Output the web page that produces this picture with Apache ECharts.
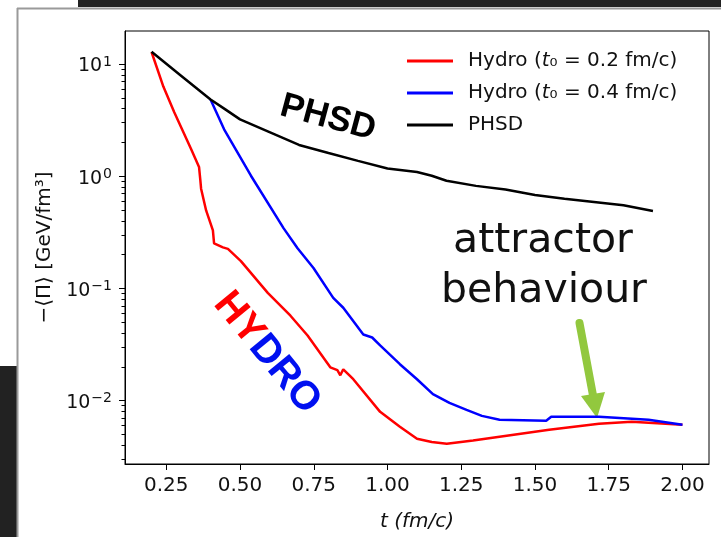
<!DOCTYPE html>
<html><head><meta charset="utf-8">
<script src="https://cdn.jsdelivr.net/npm/echarts@6/dist/echarts.min.js"></script>
<style>html,body{margin:0;padding:0;background:#fff}#c{width:721px;height:537px}</style>
</head><body><div id="c"></div>
<script>
// ---- data ----
const redT = [0.20, 0.24, 0.277, 0.334, 0.361, 0.365, 0.368, 0.385, 0.408, 0.412, 0.442, 0.459, 0.503, 0.594, 0.671, 0.729, 0.806, 0.830, 0.840, 0.850, 0.884, 0.975, 1.042, 1.100, 1.150, 1.201, 1.290, 1.380, 1.548, 1.717, 1.828, 1.943, 2.00];
const redV = [12.8, 6.30, 3.71, 1.75, 1.21, 0.949, 0.774, 0.495, 0.329, 0.252, 0.232, 0.225, 0.175, 0.0912, 0.0571, 0.0380, 0.0198, 0.0187, 0.0168, 0.0190, 0.0155, 0.00793, 0.00585, 0.00457, 0.00428, 0.00413, 0.00440, 0.00476, 0.00549, 0.00621, 0.00647, 0.00621, 0.00608];
const blueT = [0.40, 0.446, 0.537, 0.648, 0.695, 0.749, 0.816, 0.850, 0.918, 0.948, 0.975, 1.042, 1.100, 1.154, 1.210, 1.268, 1.320, 1.380, 1.538, 1.555, 1.717, 1.885, 2.00];
const blueV = [4.83, 2.62, 1.01, 0.343, 0.228, 0.152, 0.0824, 0.0672, 0.0388, 0.0365, 0.0310, 0.0211, 0.0155, 0.0114, 0.00953, 0.00826, 0.00730, 0.00674, 0.00660, 0.00716, 0.00716, 0.00674, 0.00608];
const phsdT = [0.2, 0.3, 0.4, 0.45, 0.5, 0.6, 0.7, 0.8, 0.9, 1.0, 1.1, 1.15, 1.2, 1.3, 1.4, 1.5, 1.6, 1.7, 1.8, 1.9];
const phsdV = [12.85, 7.87, 4.83, 3.94, 3.21, 2.47, 1.90, 1.61, 1.37, 1.17, 1.09, 1.01, 0.91, 0.82, 0.76, 0.68, 0.63, 0.59, 0.55, 0.49];
const seriesNames = ['Hydro (t₀ = 0.2 fm/c)', 'Hydro (t₀ = 0.4 fm/c)', 'PHSD'];
const xTicks = [0.25, 0.50, 0.75, 1.00, 1.25, 1.50, 1.75, 2.00];
const yMajor = [0.01, 0.1, 1, 10];
const yMinor = [0.003, 0.004, 0.005, 0.006, 0.007, 0.008, 0.009,
                0.02, 0.03, 0.04, 0.05, 0.06, 0.07, 0.08, 0.09,
                0.2, 0.3, 0.4, 0.5, 0.6, 0.7, 0.8, 0.9,
                2, 3, 4, 5, 6, 7, 8, 9];
// ----------------------------------------
const zip = (a, b) => a.map((t, i) => [t, b[i]]);
const F = 'DejaVu Sans';
const B = 'Liberation Sans';
const yMin = 0.00272, yMax = 19.7;
function supLabel(v) {
  const l = Math.log10(v), e = Math.round(l);
  if (Math.abs(l - e) > 1e-6) return '';
  return '{b|10}{s|' + String(e).replace('-', '\u2212') + '}';
}
// helper axes in log10 space carry the tick marks of the log axis
function tickAxis(vals, len) {
  return {
    type: 'value', min: Math.log10(yMin), max: Math.log10(yMax), position: 'left', offset: 0,
    axisLine: {show: false},
    axisTick: {show: true, length: len, customValues: vals.map(Math.log10), lineStyle: {color: '#000', width: 1}},
    axisLabel: {show: false}, splitLine: {show: false}
  };
}
const chart = echarts.init(document.getElementById('c'));
const deg = Math.PI / 180;
chart.setOption({
  backgroundColor: '#fff',
  animation: false,
  grid: {left: 125, right: 12, top: 31, bottom: 69, show: true, borderColor: '#000', borderWidth: 1, backgroundColor: 'transparent'},
  xAxis: {
    type: 'value', min: 0.11, max: 2.09,
    name: 't (fm/c)', nameLocation: 'middle', nameGap: 48,
    nameTextStyle: {fontFamily: F, fontSize: 20, fontStyle: 'italic', color: '#111'},
    axisLine: {show: true, onZero: false, lineStyle: {color: '#000', width: 1}},
    axisTick: {show: true, length: 6, customValues: xTicks, lineStyle: {color: '#000', width: 1}},
    axisLabel: {customValues: xTicks, formatter: v => v.toFixed(2), margin: 12, fontFamily: F, fontSize: 20, color: '#111'},
    splitLine: {show: false}
  },
  yAxis: [{
    type: 'log', min: yMin, max: yMax, position: 'left',
    name: '\u2212\u27e8\u03a0\u27e9 [GeV/fm\u00b3]', nameLocation: 'middle', nameGap: 70, nameRotate: 90,
    nameTextStyle: {fontFamily: F, fontSize: 20, color: '#111'},
    axisLine: {show: true, lineStyle: {color: '#000', width: 1}},
    axisTick: {show: false},
    axisLabel: {customValues: yMajor, formatter: supLabel, margin: 13, color: '#111',
      rich: {b: {fontFamily: F, fontSize: 19, color: '#111', padding: [5, 0, 0, 0]},
             s: {fontFamily: F, fontSize: 14, color: '#111', padding: [0, 0, 4, 1]}}},
    splitLine: {show: false}, minorTick: {show: false}
  }, tickAxis(yMajor, 6), tickAxis(yMinor, 3.5)],
  legend: {
    orient: 'vertical', left: 407, top: 50, padding: 0, itemWidth: 46, itemHeight: 3, itemGap: 10, icon: 'rect',
    selectedMode: false, data: seriesNames,
    formatter: n => n.replace('(t', '({i|t}'),
    textStyle: {fontFamily: F, fontSize: 20, color: '#111', lineHeight: 22, padding: [0, 0, 0, 10],
      rich: {i: {fontFamily: F, fontSize: 20, fontStyle: 'italic', color: '#111'}}}
  },
  series: [
    {name: seriesNames[0], type: 'line', data: zip(redT, redV), showSymbol: false, color: '#ff0000', lineStyle: {color: '#ff0000', width: 2.5}, z: 3},
    {name: seriesNames[1], type: 'line', data: zip(blueT, blueV), showSymbol: false, color: '#0000ff', lineStyle: {color: '#0000ff', width: 2.5}, z: 4},
    {name: seriesNames[2], type: 'line', data: zip(phsdT, phsdV), showSymbol: false, color: '#000000', lineStyle: {color: '#000000', width: 2.5}, z: 5}
  ],
  graphic: [
    {type: 'rect', silent: true, shape: {x: 78, y: 0, width: 643, height: 7}, style: {fill: '#222'}},
    {type: 'rect', silent: true, shape: {x: 0, y: 366, width: 17, height: 171}, style: {fill: '#222'}},
    {type: 'line', silent: true, shape: {x1: 17, y1: 8.5, x2: 721, y2: 8.5}, style: {stroke: '#9a9a9a', lineWidth: 2}},
    {type: 'line', silent: true, shape: {x1: 17.5, y1: 8, x2: 17.5, y2: 537}, style: {stroke: '#9a9a9a', lineWidth: 2}},
    {type: 'text', silent: true, x: 328, y: 118, rotation: -15 * deg,
      style: {text: 'PHSD', fontFamily: B, fontWeight: 'bold', fontSize: 35, fill: '#000', align: 'center', verticalAlign: 'middle'}},
    {type: 'text', silent: true, x: 267, y: 353, rotation: -50.6 * deg,
      style: {text: '{r|HY}{u|DRO}', align: 'center', verticalAlign: 'middle',
        rich: {r: {fontFamily: B, fontWeight: 'bold', fontSize: 40, fill: '#ff0000'},
               u: {fontFamily: B, fontWeight: 'bold', fontSize: 40, fill: '#0010f0'}}}},
    {type: 'text', silent: true, x: 543, y: 241,
      style: {text: 'attractor', fontFamily: F, fontSize: 41, fill: '#111', align: 'center', verticalAlign: 'middle'}},
    {type: 'text', silent: true, x: 544, y: 291,
      style: {text: 'behaviour', fontFamily: F, fontSize: 41, fill: '#111', align: 'center', verticalAlign: 'middle'}},
    {type: 'line', silent: true, shape: {x1: 579.5, y1: 323, x2: 593.5, y2: 398}, style: {stroke: '#92c83e', lineWidth: 8, lineCap: 'round'}},
    {type: 'polygon', silent: true, shape: {points: [[581, 396], [605, 392], [597, 418]]}, style: {fill: '#92c83e'}}
  ]
});
</script></body></html>
